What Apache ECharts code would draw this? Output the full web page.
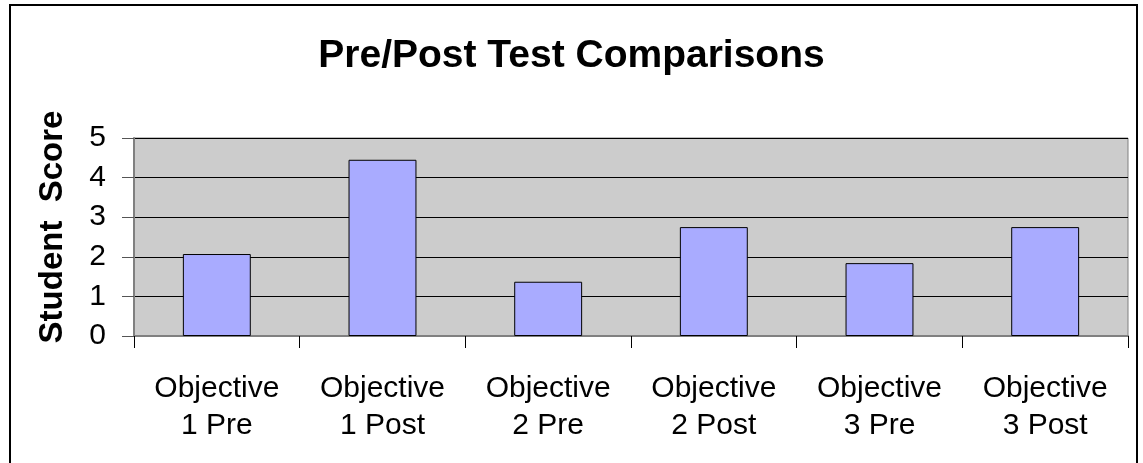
<!DOCTYPE html>
<html>
<head>
<meta charset="utf-8">
<script src="https://cdn.jsdelivr.net/npm/echarts@6.0.0/dist/echarts.min.js"></script>
<style>
  html, body { margin: 0; padding: 0; background: #fff; }
  #chart { width: 1143px; height: 463px; }
</style>
</head>
<body>
<div id="chart"></div>
<script>
  // valores
  var categories = ["Objective\n1 Pre", "Objective\n1 Post", "Objective\n2 Pre",
                    "Objective\n2 Post", "Objective\n3 Pre", "Objective\n3 Post"];
  var scores = [2.07, 4.45, 1.37, 2.75, 1.84, 2.75];
  var yTicks = [0, 1, 2, 3, 4, 5];

  var FONT = "Liberation Sans, Arial, sans-serif";
  var chart = echarts.init(document.getElementById("chart"), null, { renderer: "canvas" });

  chart.setOption({
    backgroundColor: "#fff",
    animation: false,
    title: {
      text: "Pre/Post Test Comparisons",
      left: "center", top: 32,
      textStyle: { fontFamily: FONT, fontSize: 39, fontWeight: "bold", color: "#000", lineHeight: 39 }
    },
    graphic: [{
      type: "rect", silent: true, z: 100,
      shape: { x: 10, y: 5, width: 1127, height: 470 },
      style: { fill: "none", stroke: "#000", lineWidth: 2 }
    }],
    grid: {
      left: 134, right: 15, top: 138, bottom: 127,
      show: true, backgroundColor: "#CCCCCC", borderColor: "#808080", borderWidth: 1
    },
    xAxis: {
      type: "category", data: categories,
      axisLine: { lineStyle: { color: "#808080", width: 2 } },
      axisTick: { show: true, length: 12, lineStyle: { color: "#000" } },
      axisLabel: {
        interval: 0, margin: 34, color: "#000",
        fontFamily: FONT, fontSize: 30, lineHeight: 37
      }
    },
    yAxis: {
      type: "value", min: yTicks[0], max: yTicks[yTicks.length - 1], interval: 1,
      name: "Student  Score", nameLocation: "middle", nameGap: 65, nameRotate: 90,
      nameTextStyle: {
        fontFamily: FONT, fontSize: 33, fontWeight: "bold", color: "#000",
        padding: [0, 0, 0, 20]
      },
      axisLine: { show: true, lineStyle: { color: "#808080", width: 2 } },
      axisTick: { show: true, length: 12, lineStyle: { color: "#555" } },
      axisLabel: { margin: 28, color: "#000", fontFamily: FONT, fontSize: 30 },
      splitLine: { lineStyle: { color: "#000", width: 1 } }
    },
    series: [{
      type: "bar", data: scores, barWidth: "41%",
      itemStyle: { color: "#A9ABFF", borderColor: "#000", borderWidth: 1 }
    }]
  });
</script>
</body>
</html>
